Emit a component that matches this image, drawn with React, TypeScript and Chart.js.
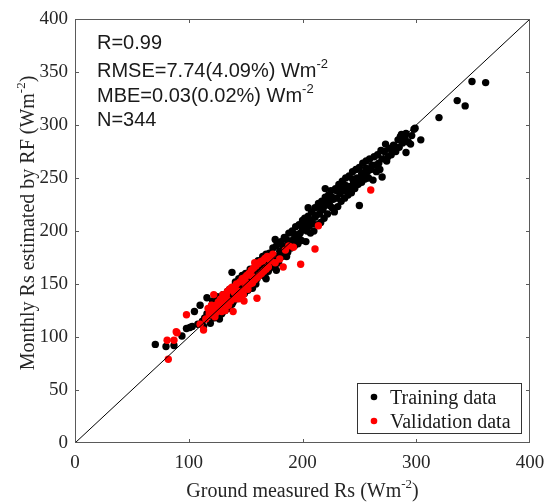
import React, { useEffect, useRef } from "react";
import { Chart, registerables } from "chart.js";

Chart.register(...registerables);

const xTickValues = [0, 100, 200, 300, 400];
const yTickValues = [0, 50, 100, 150, 200, 250, 300, 350, 400];
const seriesLabels = ["Training data", "Validation data"];
const seriesColors = ["#000000", "#ff0000"];
const diagonalPoints = [
  { x: 0, y: 0 },
  { x: 400, y: 400 },
];
const statLines = [
  { text: "R=0.99", sup: "" },
  { text: "RMSE=7.74(4.09%) Wm", sup: "-2" },
  { text: "MBE=0.03(0.02%) Wm", sup: "-2" },
  { text: "N=344", sup: "" },
];
const xTitle = ["Ground measured Rs (Wm", "-2", ")"];
const yTitle = ["Monthly Rs estimated by RF (Wm", "-2", ")"];

const trainingPoints: [number, number][] = [
  [70.6, 93], [80, 91], [87, 92], [94, 101], [98, 108], [101, 109], [103, 110], [105, 124],
  [108, 112], [110, 130], [112, 115], [113, 110], [114, 118], [116, 137], [116, 122], [117, 120],
  [118, 125], [119, 113], [120, 123],
  [121, 134], [122, 118], [123, 128], [124, 124], [125, 138], [126, 126], [127, 117], [128, 133],
  [129, 122], [130, 140], [131, 135], [132, 125], [133, 128], [134, 143], [135, 134], [136, 127],
  [137, 140], [138, 161], [138, 131], [139, 147], [140, 138], [121, 126], [124, 131], [127, 129],
  [130, 124], [133, 137], [136, 145], [139, 133],
  [141, 152], [142, 136], [143, 143], [144, 155], [145, 150], [146, 139], [147, 158], [148, 148],
  [149, 141], [150, 160], [151, 150], [152, 144], [153, 149], [154, 164], [155, 153], [156, 146],
  [157, 162], [158, 160], [159, 150], [160, 168], [145, 144], [150, 153], [155, 159], [142, 147],
  [147, 146], [152, 157], [157, 152], [160, 155],
  [161, 172], [162, 158], [163, 168], [164, 160], [165, 176], [166, 166], [167, 157], [168, 178],
  [169, 168], [170, 162], [171, 179], [172, 176], [173, 166], [174, 184], [175, 175], [176, 168],
  [177, 186], [178, 176], [179, 170], [180, 188], [168, 155], [175, 166], [163, 163], [166, 171],
  [170, 172], [173, 178], [177, 174], [177, 163], [176, 192], [180, 181],
  [181, 190], [182, 176], [183, 186], [184, 194], [185, 182], [186, 192], [187, 180], [188, 198],
  [189, 188], [190, 184], [191, 200], [192, 192], [193, 186], [194, 204], [195, 195], [196, 188],
  [197, 206], [198, 198], [199, 191], [200, 210], [186, 176], [183, 181], [188, 186], [193, 197],
  [197, 193], [200, 201],
  [201, 204], [202, 212], [203, 190], [204, 200], [205, 214], [206, 205], [207, 198], [208, 218],
  [209, 207], [210, 200], [211, 222], [212, 215], [213, 206], [214, 226], [215, 216], [216, 208],
  [217, 228], [218, 220], [219, 212], [220, 232], [205, 222], [203, 207], [207, 210], [211, 213],
  [215, 222], [219, 224], [220, 240],
  [221, 226], [222, 216], [223, 234], [224, 224], [225, 238], [226, 222], [227, 230], [228, 218],
  [229, 240], [230, 231], [231, 223], [232, 244], [233, 235], [234, 228], [235, 247], [236, 238],
  [237, 231], [238, 250], [239, 240], [240, 234], [223, 228], [226, 232], [230, 238], [234, 240],
  [238, 243],
  [241, 252], [242, 242], [243, 236], [244, 256], [245, 246], [246, 240], [247, 258], [248, 250],
  [249, 244], [250, 224], [250, 260], [251, 250], [252, 246], [253, 264], [254, 255], [255, 249],
  [256, 266], [257, 256], [258, 250], [259, 268], [260, 258], [244, 249], [248, 244], [252, 254],
  [256, 259],
  [261, 262], [262, 248], [263, 270], [264, 262], [265, 256], [266, 272], [267, 264], [268, 258],
  [269, 276], [270, 251], [270, 268], [272, 275], [273, 282], [274, 266], [276, 278], [278, 272],
  [280, 281], [275, 270], [279, 276],
  [282, 275], [284, 286], [285, 279], [286, 289], [287, 291], [288, 283], [290, 288], [291, 292],
  [291, 274], [293, 284], [295, 282], [296, 290], [298, 296], [299, 297], [304, 286],
  [320, 307], [336, 323], [343, 318], [349, 341], [361, 340],
];

const validationPoints: [number, number][] = [
  [82, 79], [81, 97], [87, 97], [89.7, 104], [89, 105], [98, 121], [113, 106.6], [110, 112],
  [115, 117], [117, 127], [118, 122], [120, 130], [121, 125], [122, 140], [123, 119], [124, 130],
  [125, 124], [126, 133], [127, 126], [128, 136], [129, 124], [130, 140], [131, 131], [132, 125],
  [133, 139], [134, 143], [135, 130], [136, 145], [137, 134], [138, 147], [139, 124], [140, 142],
  [141, 136], [142, 150], [143, 141], [144, 136], [145, 152], [146, 143], [147, 155], [148, 140],
  [148.6, 134], [149, 156], [150, 147], [151, 158], [152, 145], [153, 160], [154, 150], [155, 163],
  [156, 151], [157, 165], [158, 154], [158, 170], [159, 167], [160, 136.5], [160, 156], [161, 169],
  [162, 158], [163, 171], [164, 160], [165, 172], [166, 162], [167, 174], [168, 164], [169, 176],
  [170, 166], [172, 172], [174, 178], [176, 170], [180, 173.6], [183, 166], [185, 182], [188, 186],
  [192, 184.6], [198.4, 168.6], [211, 183], [214, 205], [260, 238.7], [119, 121], [126, 128],
  [134, 135], [142, 144], [150, 152], [156, 157],
];

function drawSupText(
  ctx: CanvasRenderingContext2D,
  parts: string[],
  x: number,
  y: number,
  size: number,
  family: string,
  centered: boolean
) {
  const main = `${size}px ${family}`;
  const small = `${Math.round(size * 0.65)}px ${family}`;
  ctx.font = main;
  const w0 = ctx.measureText(parts[0]).width;
  ctx.font = small;
  const w1 = parts[1] ? ctx.measureText(parts[1]).width : 0;
  ctx.font = main;
  const w2 = parts[2] ? ctx.measureText(parts[2]).width : 0;
  let sx = centered ? x - (w0 + w1 + w2) / 2 : x;
  ctx.textAlign = "left";
  ctx.textBaseline = "alphabetic";
  ctx.font = main;
  ctx.fillText(parts[0], sx, y);
  sx += w0;
  if (parts[1]) {
    ctx.font = small;
    ctx.fillText(parts[1], sx, y - size * 0.45);
    sx += w1;
  }
  if (parts[2]) {
    ctx.font = main;
    ctx.fillText(parts[2], sx, y);
  }
}

const decorPlugin = {
  id: "decor",
  afterDraw(chart: any) {
    const { ctx, chartArea } = chart;
    const { left, right, top, bottom } = chartArea;
    const xs = chart.scales.x;
    const ys = chart.scales.y;
    ctx.save();
    ctx.strokeStyle = "#5a5a5a";
    ctx.lineWidth = 1;
    ctx.strokeRect(left + 0.5, top + 0.5, right - left - 1, bottom - top - 1);
    ctx.beginPath();
    for (const v of xTickValues.slice(1, -1)) {
      const px = Math.round(xs.getPixelForValue(v)) + 0.5;
      ctx.moveTo(px, bottom);
      ctx.lineTo(px, bottom - 4);
      ctx.moveTo(px, top);
      ctx.lineTo(px, top + 4);
    }
    for (const v of yTickValues.slice(1, -1)) {
      const py = Math.round(ys.getPixelForValue(v)) + 0.5;
      ctx.moveTo(left, py);
      ctx.lineTo(left + 4, py);
      ctx.moveTo(right, py);
      ctx.lineTo(right - 4, py);
    }
    ctx.stroke();

    ctx.fillStyle = "#1a1a1a";
    const baselines = [49, 77, 102, 126];
    statLines.forEach((l, i) => {
      drawSupText(ctx, [l.text, l.sup, ""], 97, baselines[i], 20, "'Liberation Sans', Arial, sans-serif", false);
    });

    ctx.fillStyle = "#262626";
    drawSupText(ctx, xTitle, (left + right) / 2, 497, 20, "'Liberation Serif', 'Times New Roman', serif", true);
    ctx.save();
    ctx.translate(34, (top + bottom) / 2 - 8);
    ctx.rotate(-Math.PI / 2);
    drawSupText(ctx, yTitle, 0, 0, 20, "'Liberation Serif', 'Times New Roman', serif", true);
    ctx.restore();

    const lx = 357, ly = 383, lw = 164, lh = 50;
    ctx.fillStyle = "#ffffff";
    ctx.fillRect(lx, ly, lw, lh);
    ctx.strokeStyle = "#333333";
    ctx.strokeRect(lx + 0.5, ly + 0.5, lw, lh);
    seriesLabels.forEach((lab, i) => {
      const cy = 397 + i * 24;
      ctx.fillStyle = seriesColors[i];
      ctx.beginPath();
      ctx.arc(374, cy, 3.3, 0, Math.PI * 2);
      ctx.fill();
      ctx.fillStyle = "#1a1a1a";
      ctx.font = "20px 'Liberation Serif', 'Times New Roman', serif";
      ctx.textAlign = "left";
      ctx.textBaseline = "alphabetic";
      ctx.fillText(lab, 390, cy + 7);
    });
    ctx.restore();
  },
};

export default function App() {
  const canvasRef = useRef<HTMLCanvasElement | null>(null);

  useEffect(() => {
    if (!canvasRef.current) return;
    const tickFont = { family: "'Liberation Serif', 'Times New Roman', serif", size: 19 };
    const chart = new Chart(canvasRef.current, {
      type: "scatter",
      data: {
        datasets: [
          {
            label: "1:1",
            data: diagonalPoints,
            showLine: true,
            borderColor: "#000000",
            borderWidth: 1,
            pointRadius: 0,
            fill: false,
          },
          {
            label: seriesLabels[1],
            data: validationPoints.map(([x, y]) => ({ x, y })),
            backgroundColor: seriesColors[1],
            borderWidth: 0,
            pointRadius: 3.7,
          },
          {
            label: seriesLabels[0],
            data: trainingPoints.map(([x, y]) => ({ x, y })),
            backgroundColor: seriesColors[0],
            borderWidth: 0,
            pointRadius: 3.7,
          },
        ],
      },
      options: {
        animation: false,
        responsive: false,
        layout: { padding: { top: 19, right: 14, left: 0, bottom: 0 } },
        plugins: {
          legend: { display: false },
          tooltip: { enabled: false },
          title: { display: false },
        },
        scales: {
          x: {
            type: "linear",
            min: 0,
            max: 400,
            afterFit: (s: any) => {
              s.height = 60;
              s.paddingLeft = 0;
              s.paddingRight = 0;
            },
            afterBuildTicks: (s: any) => {
              s.ticks = xTickValues.map((v) => ({ value: v }));
            },
            grid: { display: false, drawTicks: false },
            border: { display: false },
            ticks: { color: "#262626", padding: 9, maxRotation: 0, font: tickFont },
          },
          y: {
            type: "linear",
            min: 0,
            max: 400,
            afterFit: (s: any) => {
              s.width = 75;
              s.paddingTop = 0;
              s.paddingBottom = 0;
            },
            afterBuildTicks: (s: any) => {
              s.ticks = yTickValues.map((v) => ({ value: v }));
            },
            grid: { display: false, drawTicks: false },
            border: { display: false },
            ticks: { color: "#262626", padding: 7, font: tickFont },
          },
        },
      },
      plugins: [decorPlugin],
    });
    return () => chart.destroy();
  }, []);

  return (
    <div style={{ position: "fixed", left: 0, top: 0, width: 544, height: 503, background: "#fff" }}>
      <canvas ref={canvasRef} width={544} height={503} />
    </div>
  );
}
